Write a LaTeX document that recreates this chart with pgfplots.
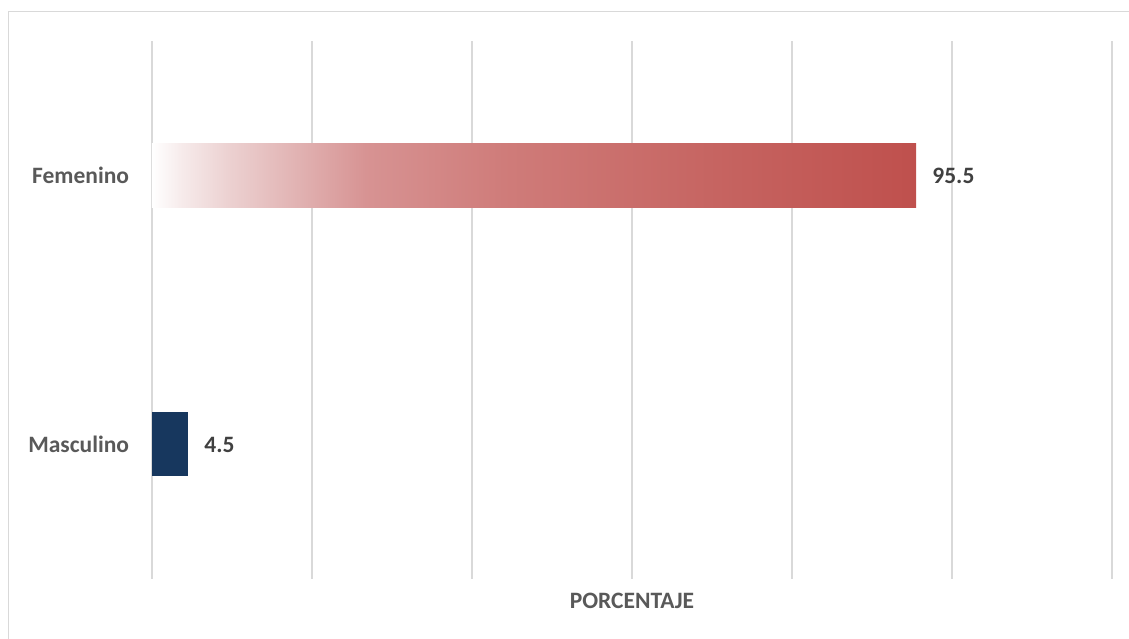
\documentclass[border=0pt]{standalone}
\usepackage{pgfplots}
\pgfplotsset{compat=1.18}
\usepackage{fontspec}
\setmainfont{Carlito}
\definecolor{lbl}{RGB}{89,89,89}
\definecolor{val}{RGB}{64,64,64}
\definecolor{navy}{RGB}{23,55,94}
\definecolor{gridc}{RGB}{217,217,217}
\pgfdeclarehorizontalshading{redfade}{100bp}{%
rgb(0bp)=(1,1,1);
rgb(25bp)=(1,1,1);
rgb(27bp)=(0.965,0.918,0.918);
rgb(30bp)=(0.925,0.820,0.820);
rgb(35bp)=(0.878,0.686,0.686);
rgb(39bp)=(0.843,0.576,0.576);
rgb(48bp)=(0.812,0.486,0.478);
rgb(62bp)=(0.776,0.392,0.380);
rgb(75bp)=(0.749,0.314,0.302);
rgb(100bp)=(0.749,0.314,0.302)}
\begin{document}
\begin{tikzpicture}
\begin{axis}[
  name=ax,
  scale only axis,
  width=480pt, height=269pt,
  xbar, bar width=32pt, bar shift=0pt,
  xmin=0, xmax=120, ymin=-0.5, ymax=1.5,
  xtick={20,40,...,120}, xticklabels={},
  extra x ticks={0}, extra x tick labels={},
  extra x tick style={grid style={gridc, line width=1.5pt}},
  xmajorgrids, major x grid style={gridc, line width=1pt},
  ytick={0,1}, yticklabels={Masculino,Femenino},
  tick style={draw=none},
  axis line style={draw=none},
  yticklabel style={font=\bfseries\fontsize{11.75}{14}\selectfont, text=lbl, inner sep=0pt, xshift=-7pt},
  xlabel={PORCENTAJE},
  xlabel style={font=\bfseries\fontsize{11.75}{14}\selectfont, text=lbl, at={(axis description cs:0.5,0)}, anchor=center, yshift=-11pt},
  nodes near coords,
  /pgf/number format/assume math mode=true,
  /pgf/number format/.cd, fixed, precision=1, fixed zerofill, /pgfplots/.cd,
  every node near coord/.append style={font=\bfseries\fontsize{11.75}{14}\selectfont, text=val, inner sep=0pt, anchor=west, xshift=8pt},
]
\addplot[draw=none, shading=redfade] coordinates {(95.5,1)};
\addplot[draw=none, fill=navy] coordinates {(4.5,0)};
\end{axis}
\draw[gridc, line width=0.75pt] ([xshift=-71.75pt,yshift=-30pt]ax.south west) -- ([xshift=-71.75pt,yshift=14.75pt]ax.north west) -- ([xshift=8.5pt,yshift=14.75pt]ax.north east);
\pgfresetboundingbox
\path ([xshift=-76pt,yshift=-30pt]ax.south west) rectangle ([xshift=8.5pt,yshift=20.5pt]ax.north east);
\end{tikzpicture}
\end{document}
